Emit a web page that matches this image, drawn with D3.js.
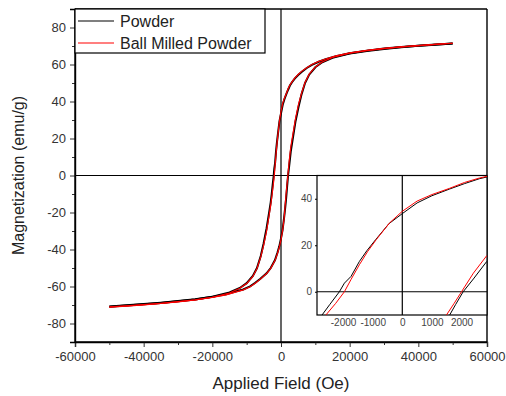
<!DOCTYPE html>
<html>
<head>
<meta charset="utf-8">
<script src="https://cdn.jsdelivr.net/npm/d3@7"></script>
<style>
  body { margin: 0; background: #fff; }
  svg { display: block; font-family: "Liberation Sans", Arial, sans-serif; }
</style>
</head>
<body>
<div id="chart"></div>
<script>
// hysteresis loops, field (Oe) vs magnetization (emu/g)

// Powder: descending branch (+H -> -H)
const powderDown = [
	[50000, 71.3], [45000, 70.7], [40000, 70.1], [35000, 69.4], [30000, 68.6],
	[25000, 67.5], [20000, 66.1], [16000, 64.5], [13000, 62.8], [11000, 61.5],
	[9000, 59.8], [7500, 58.1], [6000, 56.0], [5000, 54.3], [4000, 52.4],
	[3200, 50.4], [2600, 48.6], [2100, 46.5], [1600, 44.2], [1000, 41.3],
	[500, 38.2], [0, 33.6], [-450, 29.3], [-900, 22.4], [-1200, 17.6],
	[-1450, 13.0], [-1730, 6.6], [-1955, 3.7], [-2125, 0], [-2450, -5.5],
	[-2710, -10], [-3000, -14.5], [-3500, -20.5], [-4200, -28.5], [-5100, -37],
	[-5900, -43.5], [-7000, -50], [-8200, -54.3], [-10000, -58.2], [-12000, -60.8],
	[-15000, -63.2], [-20000, -65.5], [-25000, -66.9], [-30000, -67.9], [-35000, -68.8],
	[-40000, -69.5], [-45000, -70.2], [-50000, -70.8]
];

// Powder: ascending branch (-H -> +H)
const powderUp = [
	[-50000, -70.9], [-45000, -70.3], [-40000, -69.6], [-35000, -68.9], [-30000, -68.0],
	[-25000, -67.0], [-20000, -65.6], [-16000, -64.2], [-13000, -62.6], [-11000, -61.6],
	[-9000, -59.9], [-7500, -58.0], [-6000, -55.8], [-4200, -52.9], [-3000, -50.0],
	[-1750, -45.7], [-1000, -41.5], [-500, -38.3], [0, -34.0], [450, -29.5],
	[900, -22.8], [1200, -17.8], [1450, -13.2], [1600, -10], [1800, -5.5],
	[2055, 0], [2400, 5.5], [2850, 13], [3400, 19.5], [4200, 29],
	[5100, 37], [6000, 44], [7000, 50], [8200, 54.5], [10000, 58.5],
	[12000, 61.2], [15000, 63.6], [20000, 65.9], [25000, 67.3], [30000, 68.4],
	[35000, 69.3], [40000, 70.1], [45000, 70.8], [50000, 71.3]
];

// Ball milled powder: descending branch
const milledDown = [
	[50000, 71.5], [45000, 70.9], [40000, 70.2], [35000, 69.5], [30000, 68.7],
	[25000, 67.7], [20000, 66.3], [16000, 64.7], [13000, 63.0], [11000, 61.7],
	[9000, 60.0], [7500, 58.3], [6000, 56.3], [5000, 54.6], [4000, 52.6],
	[3200, 50.6], [2600, 48.9], [2100, 47.0], [1600, 44.5], [1000, 41.8],
	[500, 39.0], [0, 34.6], [-430, 29.6], [-880, 22.4], [-1165, 17.4],
	[-1450, 11.6], [-1730, 5.3], [-1955, 0], [-2250, -5], [-2580, -10],
	[-3000, -16], [-3500, -22], [-4200, -30], [-5100, -38], [-5900, -44],
	[-7000, -50.3], [-8200, -54.6], [-10000, -58.4], [-12000, -61.0], [-15000, -63.5],
	[-20000, -65.8], [-25000, -67.2], [-30000, -68.2], [-35000, -69.1], [-40000, -69.8],
	[-45000, -70.5], [-50000, -71.0]
];

// Ball milled powder: ascending branch
const milledUp = [
	[-50000, -71.1], [-45000, -70.6], [-40000, -69.9], [-35000, -69.2], [-30000, -68.3],
	[-25000, -67.3], [-20000, -65.9], [-16000, -64.5], [-13000, -62.9], [-11000, -61.8],
	[-9000, -60.1], [-7500, -58.2], [-6000, -56.0], [-4200, -53.0], [-3000, -50.2],
	[-1750, -46.0], [-1000, -42.0], [-500, -38.8], [0, -34.6], [450, -30],
	[900, -23.5], [1200, -16.5], [1490, -10], [1750, -5], [2000, 0],
	[2400, 8], [2850, 15.5], [3400, 21.5], [4200, 30.5], [5100, 38.5],
	[6000, 44.5], [7000, 50.3], [8200, 54.8], [10000, 58.7], [12000, 61.4],
	[15000, 63.8], [20000, 66.1], [25000, 67.5], [30000, 68.6], [35000, 69.5],
	[40000, 70.2], [45000, 70.9], [50000, 71.5]
];

const seriesNames = ["Powder", "Ball Milled Powder"];
const seriesColors = ["black", "#ff0000"];

const xTicks = [-60000, -40000, -20000, 0, 20000, 40000, 60000];
const yTicks = [-80, -60, -40, -20, 0, 20, 40, 60, 80];
const insetXTicks = [-2000, -1000, 0, 1000, 2000];
const insetYTicks = [0, 20, 40];

const w = 506, h = 396;
const margin = {top: 9, right: 19, bottom: 54, left: 75};

// plain hyphen minus, no thousands separator
const fmt = d => String(d);

const svg = d3.select("#chart")
	.append("svg")
	.attr("width", w)
	.attr("height", h);

// main scales
const x = d3.scaleLinear().domain([-60000, 60000]).range([margin.left, w - margin.right]);
const y = d3.scaleLinear().domain([-90, 90]).range([h - margin.bottom, margin.top]);

svg.append("clipPath").attr("id", "clipMain")
	.append("rect")
	.attr("x", margin.left).attr("y", margin.top)
	.attr("width", w - margin.left - margin.right)
	.attr("height", h - margin.top - margin.bottom);

// zero lines
svg.append("line")
	.attr("x1", margin.left).attr("x2", w - margin.right)
	.attr("y1", y(0)).attr("y2", y(0))
	.attr("stroke", "black").attr("stroke-width", 1.2);
svg.append("line")
	.attr("x1", x(0)).attr("x2", x(0))
	.attr("y1", margin.top).attr("y2", h - margin.bottom)
	.attr("stroke", "black").attr("stroke-width", 1.2);

const line = d3.line().x(d => x(d[0])).y(d => y(d[1]));

const curves = svg.append("g").attr("clip-path", "url(#clipMain)");
curves.selectAll("path.powder")
	.data([powderDown, powderUp])
	.join("path")
		.attr("class", "powder")
		.attr("d", line)
		.attr("fill", "none")
		.attr("stroke", seriesColors[0])
		.attr("stroke-width", 2);
curves.selectAll("path.milled")
	.data([milledDown, milledUp])
	.join("path")
		.attr("class", "milled")
		.attr("d", line)
		.attr("fill", "none")
		.attr("stroke", seriesColors[1])
		.attr("stroke-width", 1.2);

// axes (major + minor ticks)
svg.append("g")
	.attr("class", "axis")
	.attr("transform", `translate(0,${h - margin.bottom})`)
	.call(d3.axisBottom(x).tickValues(xTicks).tickSize(5).tickPadding(5).tickFormat(fmt));
svg.append("g")
	.attr("class", "axis")
	.attr("transform", `translate(0,${h - margin.bottom})`)
	.call(d3.axisBottom(x).tickValues(d3.range(-50000, 60000, 20000)).tickSize(3).tickFormat(""))
	.call(g => g.select(".domain").remove());

svg.append("g")
	.attr("class", "axis")
	.attr("transform", `translate(${margin.left},0)`)
	.call(d3.axisLeft(y).tickValues(yTicks).tickSize(5).tickPadding(4).tickFormat(fmt));
svg.append("g")
	.attr("class", "axis")
	.attr("transform", `translate(${margin.left},0)`)
	.call(d3.axisLeft(y).tickValues(d3.range(-70, 90, 20)).tickSize(3).tickFormat(""))
	.call(g => g.select(".domain").remove());

svg.selectAll(".axis .tick text")
	.attr("fill", "#333")
	.style("font-size", "13px");
svg.selectAll(".axis .tick line").attr("stroke", "#333");
svg.selectAll(".axis .domain").attr("stroke-width", 1.4);

// frame
[[margin.left, margin.top, w - margin.right, margin.top],
 [w - margin.right, margin.top, w - margin.right, h - margin.bottom],
 [margin.left, h - margin.bottom, w - margin.right, h - margin.bottom],
 [margin.left, margin.top, margin.left, h - margin.bottom]].forEach(s => {
	svg.append("line")
		.attr("x1", s[0]).attr("y1", s[1]).attr("x2", s[2]).attr("y2", s[3])
		.attr("stroke", "black").attr("stroke-width", 1.4);
});

// axis titles
svg.append("text")
	.attr("x", x(0))
	.attr("y", 389)
	.attr("text-anchor", "middle")
	.style("font-size", "17px")
	.attr("fill", "#222")
	.text("Applied Field (Oe)");
svg.append("text")
	.attr("transform", "rotate(-90)")
	.attr("x", -y(0))
	.attr("y", 24)
	.attr("text-anchor", "middle")
	.style("font-size", "16px")
	.attr("fill", "#222")
	.text("Magnetization (emu/g)");

// legend
const legend = svg.append("g");
legend.append("rect")
	.attr("x", margin.left).attr("y", margin.top)
	.attr("width", 190).attr("height", 44)
	.attr("fill", "white").attr("stroke", "black").attr("stroke-width", 1.2);
seriesNames.forEach((name, i) => {
	const ly = 21 + i * 22;
	legend.append("line")
		.attr("x1", 78).attr("x2", 114)
		.attr("y1", ly).attr("y2", ly)
		.attr("stroke", seriesColors[i]).attr("stroke-width", 1.2);
	legend.append("text")
		.attr("x", 120).attr("y", ly + 6)
		.style("font-size", "16px")
		.attr("fill", "#222")
		.text(name);
});

// inset zoom on the coercive region
const inset = {left: 317, right: w - margin.right, top: y(0), bottom: 315};
const xi = d3.scaleLinear().domain([-2880, 2860]).range([inset.left, inset.right]);
const yi = d3.scaleLinear().domain([-10, 50]).range([inset.bottom, inset.top]);

svg.append("clipPath").attr("id", "clipInset")
	.append("rect")
	.attr("x", inset.left).attr("y", inset.top)
	.attr("width", inset.right - inset.left)
	.attr("height", inset.bottom - inset.top);

const insetG = svg.append("g");
insetG.append("rect")
	.attr("x", inset.left).attr("y", inset.top)
	.attr("width", inset.right - inset.left)
	.attr("height", inset.bottom - inset.top)
	.attr("fill", "white").attr("stroke", "black").attr("stroke-width", 1.2);
insetG.append("line")
	.attr("x1", inset.left).attr("x2", inset.right)
	.attr("y1", yi(0)).attr("y2", yi(0))
	.attr("stroke", "black").attr("stroke-width", 1.2);
insetG.append("line")
	.attr("x1", xi(0)).attr("x2", xi(0))
	.attr("y1", inset.top).attr("y2", inset.bottom)
	.attr("stroke", "black").attr("stroke-width", 1.2);

const lineInset = d3.line().x(d => xi(d[0])).y(d => yi(d[1]));
const insetCurves = insetG.append("g").attr("clip-path", "url(#clipInset)");
insetCurves.selectAll("path.powder")
	.data([powderDown, powderUp])
	.join("path")
		.attr("class", "powder")
		.attr("d", lineInset)
		.attr("fill", "none")
		.attr("stroke", seriesColors[0])
		.attr("stroke-width", 1);
insetCurves.selectAll("path.milled")
	.data([milledDown, milledUp])
	.join("path")
		.attr("class", "milled")
		.attr("d", lineInset)
		.attr("fill", "none")
		.attr("stroke", seriesColors[1])
		.attr("stroke-width", 1);

insetG.append("g")
	.attr("transform", `translate(0,${inset.bottom})`)
	.call(d3.axisBottom(xi).tickValues(insetXTicks).tickSize(0).tickPadding(4).tickFormat(fmt))
	.call(g => g.select(".domain").remove())
	.call(g => g.selectAll("text").style("font-size", "10px").attr("fill", "#444"));
insetG.append("g")
	.attr("transform", `translate(${inset.left},0)`)
	.call(d3.axisLeft(yi).tickValues(insetYTicks).tickSize(2).tickPadding(3).tickFormat(fmt))
	.call(g => g.select(".domain").remove())
	.call(g => g.selectAll("text").style("font-size", "10px").attr("fill", "#444"));
</script>
</body>
</html>
